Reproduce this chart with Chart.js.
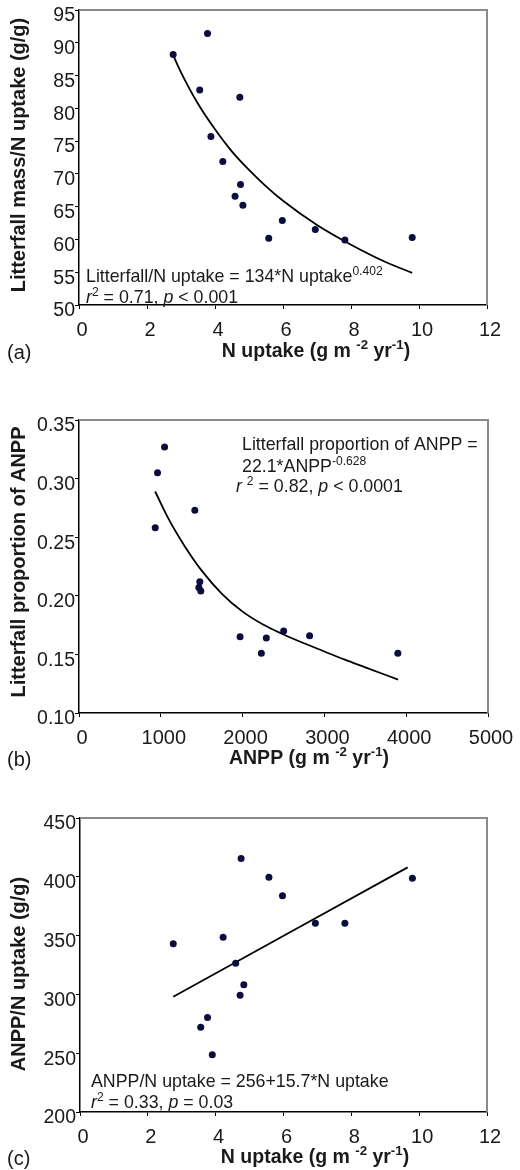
<!DOCTYPE html>
<html>
<head>
<meta charset="utf-8">
<script src="https://cdn.jsdelivr.net/npm/chart.js@4.4.1/dist/chart.umd.min.js"></script>
<style>
  html, body { margin: 0; padding: 0; background: #fff; }
  #wrap { position: relative; width: 520px; height: 1170px; }
  .panel { position: absolute; left: 0; width: 520px; }
</style>
</head>
<body>
<div id="wrap">
  <div class="panel" style="top:0px;height:370px"><canvas id="chartA"></canvas></div>
  <div class="panel" style="top:370px;height:405px"><canvas id="chartB"></canvas></div>
  <div class="panel" style="top:775px;height:395px"><canvas id="chartC"></canvas></div>
</div>
<script>
// ---- data ----
// (a) litterfall mass / N uptake vs N uptake
const nUptakeA = [2.77, 3.78, 3.55, 4.73, 3.88, 4.23, 4.75, 4.59, 4.82, 5.98, 5.58, 6.95, 7.82, 9.80];
const litterRatioA = [88.2, 91.4, 82.8, 81.7, 75.7, 71.9, 68.4, 66.6, 65.2, 62.9, 60.2, 61.5, 59.9, 60.3];
const fitXA = [2.77, 3.0, 3.5, 4.0, 4.5, 5.0, 5.5, 6.0, 7.0, 8.0, 9.0, 9.8];
const fitYA = [88.1, 85.5, 80.7, 76.8, 73.4, 70.6, 68.1, 65.9, 62.2, 59.2, 56.6, 54.9];
const xTicksA = [0, 2, 4, 6, 8, 10, 12];
const yTicksA = [50, 55, 60, 65, 70, 75, 80, 85, 90, 95];

// (b) litterfall proportion of ANPP vs ANPP
const anppB = [1046, 960, 932, 1416, 1477, 1465, 1489, 1969, 2229, 2290, 2502, 2819, 3898];
const litterPropB = [0.327, 0.305, 0.258, 0.273, 0.212, 0.207, 0.204, 0.165, 0.151, 0.164, 0.170, 0.166, 0.151];
const fitXB = [931, 1100, 1300, 1500, 1750, 2000, 2250, 2500, 2750, 3000, 3250, 3500, 3901];
const fitYB = [0.289, 0.265, 0.2415, 0.2215, 0.2015, 0.1865, 0.1755, 0.167, 0.1595, 0.1525, 0.1455, 0.139, 0.1285];
const xTicksB = [0, 1000, 2000, 3000, 4000, 5000];
const yTicksB = [0.10, 0.15, 0.20, 0.25, 0.30, 0.35];

// (c) ANPP / N uptake vs N uptake
const nUptakeC = [2.75, 4.22, 4.75, 5.57, 5.97, 6.94, 7.81, 9.80, 4.59, 4.83, 4.72, 3.76, 3.56, 3.90];
const anppRatioC = [343, 348.5, 415.5, 399.7, 383.8, 360.6, 360.6, 398.8, 326.4, 308.3, 299.3, 280.3, 272.1, 248.6];
const fitXC = [2.75, 9.66];
const fitYC = [298, 408];
const xTicksC = [0, 2, 4, 6, 8, 10, 12];
const yTicksC = [200, 250, 300, 350, 400, 450];

const FONT = '"Liberation Sans", Arial, Helvetica, sans-serif';
const INK = '#1a1a1a';
const DOT = '#0c0c3e';

const pts = (xs, ys) => xs.map((x, i) => ({ x: x, y: ys[i] }));

// draws a run of text pieces, some raised (superscript) or italic
function drawRich(ctx, x, y, parts, size, bold, align) {
    const setFont = p => {
        const s = p.sup ? size * 0.68 : size;
        ctx.font = (p.it ? 'italic ' : '') + (bold ? 'bold ' : '') + s + 'px ' + FONT;
    };
    let total = 0;
    parts.forEach(p => { setFont(p); total += ctx.measureText(p.t).width; });
    let cx = align === 'center' ? x - total / 2 : x;
    ctx.textAlign = 'left';
    ctx.textBaseline = 'middle';
    parts.forEach(p => {
        setFont(p);
        ctx.fillText(p.t, cx, p.sup ? y - size * 0.32 : y);
        cx += ctx.measureText(p.t).width;
    });
}

function makeChart(id, cfg) {
    const holder = document.getElementById(id).parentNode;
    const H = parseInt(holder.style.height);

    const decor = {
        id: 'decor',
        beforeDatasetsDraw(chart) {
            const { ctx, chartArea: a } = chart;
            ctx.save();
            ctx.strokeStyle = '#8a8a8a';
            ctx.lineWidth = 2;
            ctx.beginPath();
            ctx.moveTo(a.left, a.top);
            ctx.lineTo(a.right, a.top);
            ctx.lineTo(a.right, a.bottom);
            ctx.stroke();
            ctx.restore();
        },
        afterDraw(chart) {
            const ctx = chart.ctx;
            ctx.save();
            ctx.fillStyle = INK;
            // y axis title
            ctx.save();
            ctx.translate(19, cfg.yTitleY);
            ctx.rotate(-Math.PI / 2);
            drawRich(ctx, 0, 0, [{ t: cfg.yTitle }], 20, true, 'center');
            ctx.restore();
            // x axis title
            drawRich(ctx, cfg.xTitleX, cfg.xTitleY, cfg.xTitle, 19.5, true, 'center');
            // panel label
            drawRich(ctx, 7, cfg.xTitleY + 1, [{ t: cfg.tag }], 20, false, 'left');
            // regression text
            cfg.notes.forEach(n => drawRich(ctx, n.x, n.y, n.parts, 17.8, false, 'left'));
            ctx.restore();
        }
    };

    return new Chart(document.getElementById(id), {
        type: 'scatter',
        data: {
            datasets: [
                {
                    label: 'sites',
                    data: pts(cfg.xs, cfg.ys),
                    backgroundColor: DOT,
                    borderColor: DOT,
                    pointRadius: 3.5,
                    borderWidth: 0
                },
                {
                    label: 'fit',
                    data: pts(cfg.fitX, cfg.fitY),
                    showLine: true,
                    borderColor: '#000',
                    borderWidth: 1.8,
                    pointRadius: 0,
                    cubicInterpolationMode: 'monotone'
                }
            ]
        },
        options: {
            responsive: true,
            maintainAspectRatio: false,
            animation: false,
            events: [],
            layout: {
                padding: { left: 0, top: cfg.area.top, right: 520 - cfg.area.right, bottom: 0 }
            },
            plugins: { legend: { display: false }, tooltip: { enabled: false } },
            scales: {
                x: {
                    type: 'linear',
                    min: cfg.xTicks[0],
                    max: cfg.xTicks[cfg.xTicks.length - 1],
                    afterBuildTicks: s => { s.ticks = cfg.xTicks.map(v => ({ value: v })); },
                    afterFit: s => {
                        s.height = H - cfg.area.bottom;
                        s.paddingLeft = 0; s.paddingRight = 0;
                    },
                    grid: { drawOnChartArea: false, drawTicks: true, tickLength: 4, color: '#000' },
                    border: { color: '#000', width: 1.5 },
                    ticks: {
                        color: INK,
                        font: { family: FONT, size: 20 },
                        padding: 9,
                        labelOffset: 3,
                        maxRotation: 0,
                        callback: v => String(v)
                    }
                },
                y: {
                    type: 'linear',
                    min: cfg.yTicks[0],
                    max: cfg.yTicks[cfg.yTicks.length - 1],
                    afterBuildTicks: s => { s.ticks = cfg.yTicks.map(v => ({ value: v })); },
                    afterFit: s => {
                        s.width = cfg.area.left;
                        s.paddingTop = 0; s.paddingBottom = 0;
                    },
                    grid: { drawOnChartArea: false, drawTicks: true, tickLength: 4, color: '#000' },
                    border: { color: '#000', width: 1.5 },
                    ticks: {
                        color: INK,
                        font: { family: FONT, size: 19.5 },
                        padding: 0,
                        labelOffset: 6,
                        callback: v => cfg.yFmt(v)
                    }
                }
            }
        },
        plugins: [decor]
    });
}

const sup = t => ({ t: t, sup: true });
const it = t => ({ t: t, it: true });
const txt = t => ({ t: t });

makeChart('chartA', {
    xs: nUptakeA, ys: litterRatioA, fitX: fitXA, fitY: fitYA,
    xTicks: xTicksA, yTicks: yTicksA,
    yFmt: v => String(v),
    area: { left: 79, top: 10, right: 487, bottom: 305 },
    yTitle: 'Litterfall mass/N uptake (g/g)', yTitleY: 155,
    xTitle: [txt('N uptake (g m '), sup('-2'), txt(' yr'), sup('-1'), txt(')')],
    xTitleX: 316, xTitleY: 352, tag: '(a)',
    notes: [
        { x: 86, y: 277, parts: [txt('Litterfall/N uptake = 134*N uptake'), sup('0.402')] },
        { x: 86, y: 298, parts: [it('r'), sup('2'), txt(' = 0.71, '), it('p'), txt(' < 0.001')] }
    ]
});

makeChart('chartB', {
    xs: anppB, ys: litterPropB, fitX: fitXB, fitY: fitYB,
    xTicks: xTicksB, yTicks: yTicksB,
    yFmt: v => v.toFixed(2),
    area: { left: 79, top: 50, right: 488, bottom: 343 },
    yTitle: 'Litterfall proportion of ANPP', yTitleY: 192,
    xTitle: [txt('ANPP (g m '), sup('-2'), txt(' yr'), sup('-1'), txt(')')],
    xTitleX: 309, xTitleY: 389, tag: '(b)',
    notes: [
        { x: 242, y: 75, parts: [txt('Litterfall proportion of ANPP =')] },
        { x: 242, y: 97, parts: [txt('22.1*ANPP'), sup('-0.628')] },
        { x: 236, y: 117, parts: [it('r'), txt(' '), sup('2'), txt(' = 0.82, '), it('p'), txt(' < 0.0001')] }
    ]
});

makeChart('chartC', {
    xs: nUptakeC, ys: anppRatioC, fitX: fitXC, fitY: fitYC,
    xTicks: xTicksC, yTicks: yTicksC,
    yFmt: v => String(v),
    area: { left: 80, top: 43, right: 487, bottom: 337 },
    yTitle: 'ANPP/N uptake (g/g)', yTitleY: 199,
    xTitle: [txt('N uptake (g m '), sup('-2'), txt(' yr'), sup('-1'), txt(')')],
    xTitleX: 315, xTitleY: 383, tag: '(c)',
    notes: [
        { x: 91, y: 307, parts: [txt('ANPP/N uptake = 256+15.7*N uptake')] },
        { x: 91, y: 328, parts: [it('r'), sup('2'), txt(' = 0.33, '), it('p'), txt(' = 0.03')] }
    ]
});
</script>
</body>
</html>
